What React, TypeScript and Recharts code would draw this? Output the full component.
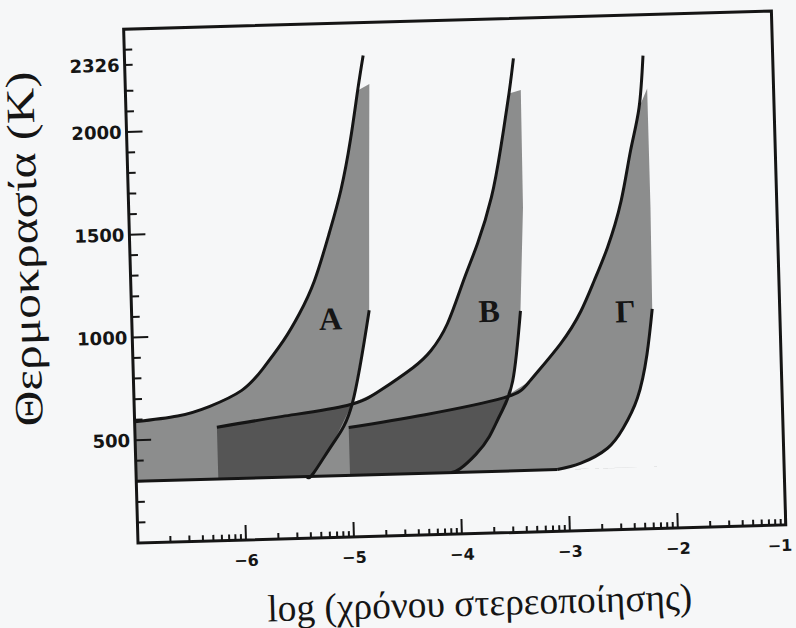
import React from "react"
import { ComposedChart, Area, Line, XAxis, YAxis, ReferenceArea, ReferenceDot, Label } from "recharts"

// x = log(t), y = T in K
const bottomLine = [[-7, 300], [-3.1, 300]]

const curveALeft = [[-7, 590], [-6.6, 612], [-6.3, 655], [-6.0, 728], [-5.8, 830], [-5.6, 965], [-5.45, 1090], [-5.3, 1250], [-5.15, 1480], [-5.03, 1690], [-4.93, 1930], [-4.85, 2170], [-4.79, 2340]]
const curveARight = [[-4.74, 2200], [-4.77, 1680], [-4.8, 1100], [-4.98, 650], [-5.17, 457], [-5.36, 314], [-5.42, 300]]

const curveBLeft = [[-6.24, 552], [-5.63, 596], [-5.03, 640], [-4.72, 708], [-4.41, 815], [-4.24, 895], [-4.08, 1024], [-3.92, 1231], [-3.78, 1410], [-3.64, 1632], [-3.54, 1874], [-3.45, 2135], [-3.4, 2305]]
const curveBRight = [[-3.34, 2150], [-3.35, 1578], [-3.4, 1077], [-3.49, 737], [-3.61, 579], [-3.72, 470], [-3.85, 385], [-4.0, 317], [-4.08, 300]]

const curveGLeft = [[-5.02, 533], [-4.31, 585], [-3.58, 656], [-3.33, 735], [-3.04, 910], [-2.84, 1068], [-2.71, 1213], [-2.58, 1371], [-2.44, 1598], [-2.34, 1840], [-2.25, 2048], [-2.2, 2301]]
const curveGRight = [[-2.17, 2140], [-2.17, 1560], [-2.18, 1068], [-2.24, 849], [-2.34, 637], [-2.48, 492], [-2.63, 397], [-2.88, 328], [-3.1, 300]]

const regionLabels = [
  { name: "A", x: -5.16, t: 1066 },
  { name: "B", x: -3.69, t: 1082 },
  { name: "Γ", x: -2.43, t: 1062 },
]

const xMajorTicks = [-6, -5, -4, -3, -2, -1]
const yMajorTicks = [500, 1000, 1500, 2000]
const yLabelTicks = [500, 1000, 1500, 2000, 2326]
const yMinorTicks = [100, 200, 300, 400, 600, 700, 800, 900, 1100, 1200, 1300, 1400, 1600, 1700, 1800, 1900, 2100, 2200, 2326, 2400]

const shadeTop = 2200 // stipple stops a bit under the tip of each curve
const lineTop = 1100 // right hand boundaries are only inked below this

// log-scale minor ticks
const xMinorTicks: number[] = []
for (let d = -7; d < -1; d++) {
  for (let k = 2; k <= 9; k++) xMinorTicks.push(d + Math.log10(k))
}
const xTicks = [...xMinorTicks, ...xMajorTicks]
const yTicks = [...yMinorTicks, ...yMajorTicks]

const below = (pts: number[][], max: number) => pts.filter((p) => p[1] <= max)
const rows = (key: string, pts: number[][]) => pts.map(([x, t]) => ({ x, [key]: t }))

const tableRows = [
  ...rows("fillA", [...below(curveALeft, shadeTop), ...curveARight]),
  ...rows("fillB", [...below(curveBLeft, shadeTop), ...curveBRight]),
  ...rows("fillG", [...below(curveGLeft, shadeTop), ...curveGRight]),
  ...rows("aLeft", curveALeft),
  ...rows("aRight", below(curveARight, lineTop)),
  ...rows("bLeft", curveBLeft),
  ...rows("bRight", below(curveBRight, lineTop)),
  ...rows("gLeft", curveGLeft),
  ...rows("gRight", below(curveGRight, lineTop)),
  ...rows("base", bottomLine),
]

const INK = "#151515"
const tickFont = "DejaVu Sans, sans-serif"
const titleFont = "Liberation Serif, serif"

function XTick(props: any) {
  const { x, y, payload } = props
  const major = xMajorTicks.includes(payload.value)
  // last label sits on the right edge of the page, keep it inside
  const last = payload.value === -1
  return (
    <g>
      <line x1={x} x2={x} y1={y} y2={y - (major ? 15 : 6)} stroke={INK} strokeWidth={2} />
      {major && (
        <text
          x={last ? x + 6 : x}
          y={y + 26}
          textAnchor={last ? "end" : "middle"}
          fontFamily={tickFont}
          fontWeight="bold"
          fontSize={16}
          fill={INK}
        >
          {"\u2212" + Math.abs(payload.value)}
        </text>
      )}
    </g>
  )
}

function YTick(props: any) {
  const { x, y, payload } = props
  const major = yMajorTicks.includes(payload.value)
  const labelled = yLabelTicks.includes(payload.value)
  return (
    <g>
      <line x1={x} x2={x + (major ? 16 : 8)} y1={y} y2={y} stroke={INK} strokeWidth={2} />
      {labelled && (
        <text x={x - 5} y={y} dy="0.36em" textAnchor="end" fontFamily={tickFont} fontWeight="bold" fontSize={18} fill={INK}>
          {payload.value}
        </text>
      )}
    </g>
  )
}

export default function App() {
  const lineProps = {
    type: "natural" as const,
    stroke: INK,
    strokeWidth: 3,
    dot: false,
    activeDot: false,
    connectNulls: true,
    isAnimationActive: false,
  }
  const fillProps = {
    type: "linear" as const,
    baseValue: 300,
    fill: "#1a1a1a",
    fillOpacity: 0.48,
    stroke: "none",
    dot: false,
    activeDot: false,
    connectNulls: true,
    isAnimationActive: false,
  }

  return (
    <div style={{ position: "absolute", left: 0, top: 0, width: 796, height: 628, overflow: "hidden", background: "#f6f7f8" }}>
      {/* the scan is tilted by about 1.6 degrees */}
      <div style={{ width: 796, height: 680, transform: "rotate(-1.6deg)", transformOrigin: "138px 543px" }}>
        <ComposedChart width={796} height={680} data={tableRows} margin={{ top: 29, right: 10, bottom: 0, left: 0 }}>
          <XAxis
            type="number"
            dataKey="x"
            domain={[-7, -1]}
            allowDataOverflow
            ticks={xTicks}
            interval={0}
            tick={<XTick />}
            tickLine={false}
            axisLine={false}
            tickSize={0}
            tickMargin={0}
            height={137}
          >
            <Label
              content={() => (
                <text x={478} y={625} textAnchor="middle" fontFamily={titleFont} fontSize={38} fill={INK} textLength={425} lengthAdjust="spacingAndGlyphs">
                  log (χρόνου στερεοποίησης)
                </text>
              )}
            />
          </XAxis>
          <YAxis
            type="number"
            domain={[0, 2500]}
            allowDataOverflow
            ticks={yTicks}
            interval={0}
            tick={<YTick />}
            tickLine={false}
            axisLine={false}
            tickSize={0}
            tickMargin={0}
            width={138}
          >
            <Label
              content={() => (
                <text
                  x={46}
                  y={246}
                  transform="rotate(-90 46 246)"
                  textAnchor="middle"
                  fontFamily={titleFont}
                  fontSize={40}
                  fill={INK}
                  textLength={355}
                  lengthAdjust="spacingAndGlyphs"
                >
                  Θερμοκρασία (K)
                </text>
              )}
            />
          </YAxis>

          <Area dataKey="fillA" {...fillProps} />
          <Area dataKey="fillB" {...fillProps} />
          <Area dataKey="fillG" {...fillProps} />

          <Line dataKey="base" {...lineProps} type="linear" />
          <Line dataKey="aLeft" {...lineProps} />
          <Line dataKey="aRight" {...lineProps} />
          <Line dataKey="bLeft" {...lineProps} />
          <Line dataKey="bRight" {...lineProps} />
          <Line dataKey="gLeft" {...lineProps} />
          <Line dataKey="gRight" {...lineProps} />

          <ReferenceArea x1={-7} x2={-1} y1={0} y2={2500} fill="none" stroke={INK} strokeWidth={3} ifOverflow="visible" />

          {regionLabels.map((l) => (
            <ReferenceDot
              key={l.name}
              x={l.x}
              y={l.t}
              r={1}
              fill="none"
              stroke="none"
              label={{ value: l.name, position: "center", fill: INK, fontSize: 32, fontWeight: "bold", fontFamily: titleFont }}
            />
          ))}
        </ComposedChart>
      </div>
    </div>
  )
}
